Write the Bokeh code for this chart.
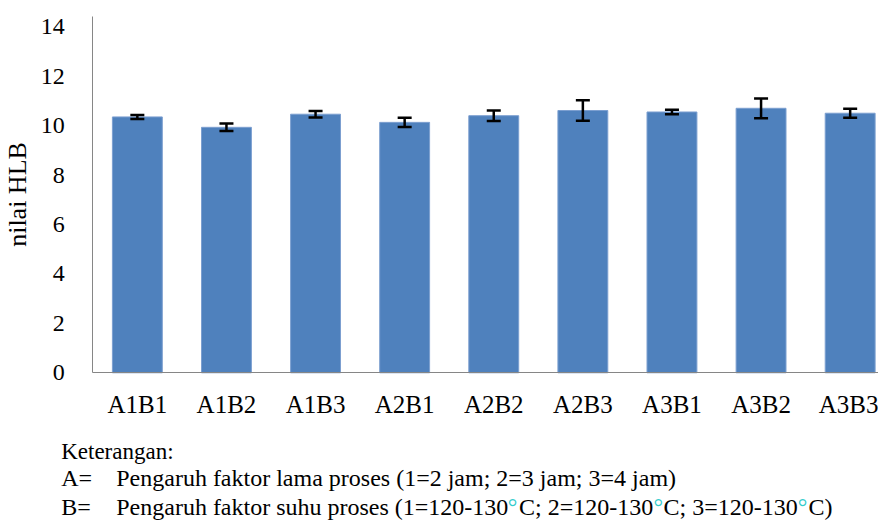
from bokeh.plotting import figure
from bokeh.models import (ColumnDataSource, Range1d, FixedTicker, Whisker, TeeHead, Label,
                          LinearAxis)
from bokeh.embed import file_html
from bokeh.resources import INLINE

categories = ["A1B1", "A1B2", "A1B3", "A2B1", "A2B2", "A2B3", "A3B1", "A3B2", "A3B3"]
hlb_values = [10.35, 9.93, 10.46, 10.13, 10.40, 10.61, 10.55, 10.70, 10.50]
hlb_errors = [0.08, 0.15, 0.13, 0.19, 0.21, 0.41, 0.09, 0.40, 0.18]
y_ticks = [0, 2, 4, 6, 8, 10, 12, 14]

FONT = "Liberation Serif"

xpos = [i + 1 for i in range(len(categories))]
source = ColumnDataSource(data=dict(
    x=xpos,
    top=hlb_values,
    upper=[v + e for v, e in zip(hlb_values, hlb_errors)],
    lower=[v - e for v, e in zip(hlb_values, hlb_errors)],
))

X0, X1 = 0.5, 9.318     # plotted x extent (category slots)
Y1 = 14.4               # top of the value axis

p = figure(width=878, height=520, output_backend="svg", toolbar_location=None,
           x_range=Range1d(-0.5359, X1), y_range=Range1d(-5.975, 15.06),
           x_axis_location=None, y_axis_location=None,
           min_border_left=0, min_border_right=0, min_border_top=0, min_border_bottom=0)
p.outline_line_color = None
p.grid.visible = False
p.background_fill_color = "white"
p.border_fill_color = "white"

p.vbar(x="x", top="top", width=0.56, source=source,
       fill_color="#4F81BD", line_color="#7C9FD0", line_width=1)

w = Whisker(base="x", upper="upper", lower="lower", source=source, dimension="height",
            line_color="black", line_width=2.5, level="overlay",
            upper_head=TeeHead(size=14, line_color="black", line_width=2.5),
            lower_head=TeeHead(size=14, line_color="black", line_width=2.5))
p.add_layout(w)

# category axis, placed at value 0
xa = LinearAxis(fixed_location=0, bounds=(X0, X1),
                ticker=FixedTicker(ticks=xpos),
                major_label_overrides={x: c for x, c in zip(xpos, categories)},
                major_label_text_font=FONT, major_label_text_font_size="25px",
                major_label_text_color="black", major_label_standoff=12,
                major_tick_line_color=None, minor_tick_line_color=None,
                axis_line_color="#868686")
p.add_layout(xa, "below")

# value axis, placed at the left edge of the first slot
ya = LinearAxis(fixed_location=X0, bounds=(0, Y1),
                ticker=FixedTicker(ticks=y_ticks),
                major_label_text_font=FONT, major_label_text_font_size="24px",
                major_label_text_color="black", major_label_standoff=22,
                major_tick_line_color=None, minor_tick_line_color=None,
                axis_line_color="#868686",
                axis_label="nilai HLB", axis_label_text_font=FONT,
                axis_label_text_font_size="26px", axis_label_text_font_style="normal",
                axis_label_text_color="black", axis_label_standoff=6)
p.add_layout(ya, "left")

def note(text, x, y, color="black", size="24px"):
    p.add_layout(Label(x=x, y=y, text=text,
                       text_font=FONT, text_font_size=size, text_color=color,
                       text_baseline="alphabetic", text_align="left"))

DEG = "#33CCCC"
Y_K, Y_A, Y_B = -3.183, -4.263, -5.449
note("Keterangan:", 0.145, Y_K, size="23px")
note("A=", 0.145, Y_A)
note("Pengaruh faktor lama proses (1=2 jam; 2=3 jam; 3=4 jam)", 0.763, Y_A)
note("B=", 0.145, Y_B)
note("Pengaruh faktor suhu proses (1=120-130", 0.763, Y_B)
note("\u00b0", 5.158, Y_B, color=DEG)
note("C; 2=120-130", 5.283, Y_B)
note("\u00b0", 6.793, Y_B, color=DEG)
note("C; 3=120-130", 6.905, Y_B)
note("\u00b0", 8.413, Y_B, color=DEG)
note("C)", 8.533, Y_B)

open("out.html", "w").write(file_html(p, INLINE))
